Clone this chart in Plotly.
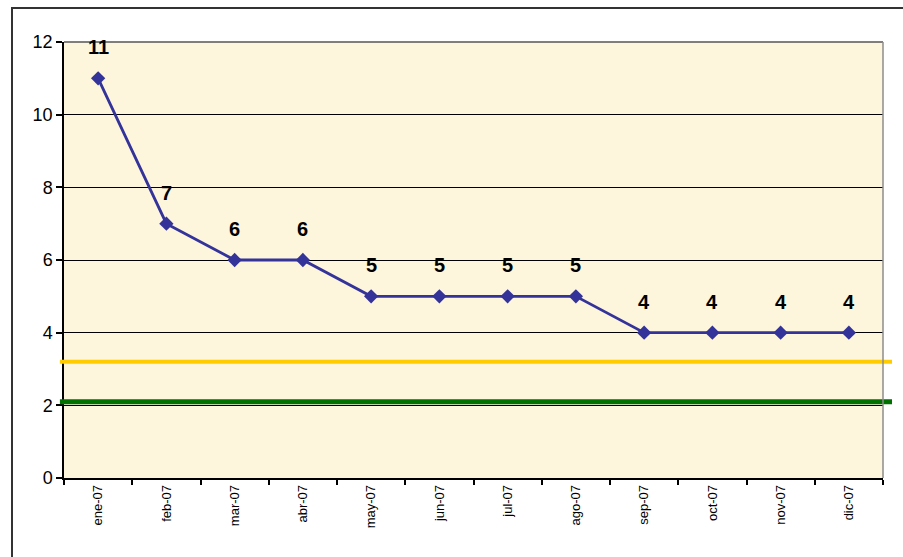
import plotly.graph_objects as go

# Monthly counts for 2007
months = ["ene-07", "feb-07", "mar-07", "abr-07", "may-07", "jun-07",
          "jul-07", "ago-07", "sep-07", "oct-07", "nov-07", "dic-07"]
values = [11, 7, 6, 6, 5, 5, 5, 5, 4, 4, 4, 4]

# Horizontal reference levels
upper_level = 3.2
lower_level = 2.1

y_ticks = [0, 2, 4, 6, 8, 10, 12]
y_max = 12

FONT = "Arial, Liberation Sans, sans-serif"

fig = go.Figure()

fig.add_trace(go.Scatter(
    x=months, y=values,
    mode="lines+markers",
    line=dict(color="#333399", width=2.8),
    marker=dict(symbol="diamond", size=11, color="#333399"),
    cliponaxis=False,
    showlegend=False,
    hoverinfo="x+y",
))

# Value labels above each point
for m, v in zip(months, values):
    fig.add_annotation(
        x=m, y=v, text="<b>%d</b>" % v, showarrow=False, yshift=31,
        font=dict(family=FONT, size=20, color="black"),
    )

shapes = []
# Reference lines, running slightly past the plot edges
for level, color, width in [(upper_level, "#FFCC00", 4), (lower_level, "#007000", 5)]:
    shapes.append(dict(
        type="line", xref="paper", yref="paper",
        x0=-0.005, x1=1.011, y0=level / y_max, y1=level / y_max,
        line=dict(color=color, width=width), layer="above",
    ))

# Grey top and right edges of the plotting area
shapes.append(dict(type="line", xref="paper", yref="paper", x0=0, x1=1, y0=1, y1=1,
                   line=dict(color="#555555", width=1.5)))
shapes.append(dict(type="line", xref="paper", yref="paper", x0=1, x1=1, y0=0, y1=1,
                   line=dict(color="#8c8c8c", width=1.5)))

# Outer chart frame
shapes.append(dict(type="rect", xref="paper", yref="paper",
                   x0=-52 / 819, x1=1.5, y0=-0.5, y1=1 + 34 / 436,
                   line=dict(color="#333333", width=2), fillcolor="rgba(0,0,0,0)"))

fig.update_layout(
    width=903, height=557,
    margin=dict(l=64, r=20, t=42, b=79),
    paper_bgcolor="white",
    plot_bgcolor="#FDF5DC",
    font=dict(family=FONT, color="black"),
    shapes=shapes,
    xaxis=dict(
        type="category", range=[-0.5, 11.5],
        tickson="boundaries", ticks="outside", ticklen=5, tickcolor="black", tickwidth=1.5,
        showline=True, linecolor="black", linewidth=1.5,
        showgrid=False, tickangle=-90,
        tickfont=dict(family=FONT, size=13, color="black"),
    ),
    yaxis=dict(
        range=[0, y_max], tickvals=y_ticks,
        ticks="outside", ticklen=6, tickcolor="black", tickwidth=1.5,
        showline=True, linecolor="black", linewidth=1.5,
        showgrid=True, gridcolor="black", gridwidth=1,
        zeroline=False,
        tickfont=dict(family=FONT, size=18, color="black"),
    ),
)

fig.write_html("out.html")
